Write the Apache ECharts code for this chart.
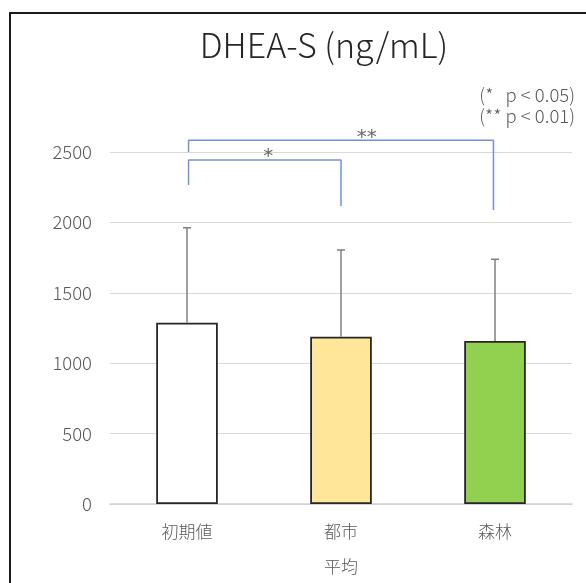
<!DOCTYPE html>
<html>
<head>
<meta charset="utf-8">
<script src="https://cdn.jsdelivr.net/npm/echarts@6/dist/echarts.min.js"></script>
<style>
  html, body { margin: 0; padding: 0; background: #fff; }
  #chart { width: 586px; height: 583px; }
</style>
</head>
<body>
<div id="chart"></div>
<script>
// Group labels and mean DHEA-S values (ng/mL) with upper SD
const categories = ['初期値', '都市', '森林'];
const means = [1288, 1188, 1158];
const sds = [674, 616, 580];
const barColors = ['#ffffff', '#ffe699', '#92d050'];
const yTicks = { min: 0, max: 2500, interval: 500 };

// Significance brackets: [x (group position), y (value)] vertices
const bracketDouble = [[0.01, 2500], [0.01, 2583], [1.99, 2583], [1.99, 2088]];
const bracketSingle = [[0.01, 2266], [0.01, 2443], [1.0, 2443], [1.0, 2116]];
// Asterisk marks placed above each bracket
const marks = [
  { pos: [1.167, 2600], text: '**' },
  { pos: [0.528, 2466], text: '*' }
];
const noteLines = ['(*   p < 0.05)', '(** p < 0.01)'];

const FONT = '"Noto Sans CJK JP", "Noto Sans", sans-serif';
const chart = echarts.init(document.getElementById('chart'));

chart.setOption({
  animation: false,
  backgroundColor: '#ffffff',
  title: {
    text: 'DHEA-S (ng/mL)',
    left: 319,
    top: 23,
    textAlign: 'center',
    textStyle: { fontFamily: FONT, fontSize: 34, fontWeight: 300, color: '#262626' }
  },
  graphic: [
    {
      type: 'rect', silent: true, z: -1,
      shape: { x: 10, y: 13, width: 800, height: 800 },
      style: { fill: 'none', stroke: '#1a1a1a', lineWidth: 2 }
    },
    {
      type: 'text', right: 11, top: 84,
      style: { text: noteLines.join('\n'), font: '300 18.5px ' + FONT, fill: '#595959', textAlign: 'right', lineHeight: 21 }
    }
  ],
  grid: { left: 110, right: 14, top: 152, bottom: 79, containLabel: false },
  xAxis: [
    {
      type: 'category',
      data: categories,
      name: '平均',
      nameLocation: 'middle',
      nameGap: 54,
      nameTextStyle: { fontFamily: FONT, fontSize: 17, fontWeight: 300, color: '#595959' },
      axisLine: { show: true, lineStyle: { color: '#d0d0d0', width: 1.5 } },
      axisTick: { show: false },
      axisLabel: { fontFamily: FONT, fontSize: 17, fontWeight: 300, color: '#595959', margin: 19 }
    },
    {
      type: 'value', min: -0.5, max: 2.5, show: false
    }
  ],
  yAxis: {
    type: 'value',
    min: yTicks.min, max: yTicks.max, interval: yTicks.interval,
    axisLine: { show: false },
    axisTick: { show: false },
    axisLabel: {
      fontFamily: FONT, fontSize: 18.5, fontWeight: 300, color: '#595959', margin: 18,
      formatter: v => String(v)
    },
    splitLine: { lineStyle: { color: '#d9d9d9', width: 1 } }
  },
  series: [
    {
      type: 'bar',
      barWidth: '40%',
      data: means.map((v, i) => ({
        value: v,
        itemStyle: { color: barColors[i], borderColor: '#262626', borderWidth: 1.8 }
      })),
      z: 2
    },
    {
      // upward error bars with caps
      type: 'custom',
      z: 3,
      data: means.map((m, i) => [i, m, m + sds[i]]),
      renderItem: function (params, api) {
        const base = api.coord([api.value(0), api.value(1)]);
        const top = api.coord([api.value(0), api.value(2)]);
        const cap = 4;
        const style = { stroke: '#7f7f7f', lineWidth: 1.5 };
        return {
          type: 'group',
          children: [
            { type: 'line', shape: { x1: base[0], y1: base[1], x2: top[0], y2: top[1] }, style: style },
            { type: 'line', shape: { x1: top[0] - cap, y1: top[1], x2: top[0] + cap, y2: top[1] }, style: style }
          ]
        };
      }
    },
    {
      type: 'line', xAxisIndex: 1, data: bracketDouble, symbol: 'none', clip: false,
      lineStyle: { color: '#7094d6', width: 1.5 }, z: 4
    },
    {
      type: 'line', xAxisIndex: 1, data: bracketSingle, symbol: 'none', clip: false,
      lineStyle: { color: '#7094d6', width: 1.5 }, z: 4
    },
    {
      type: 'scatter', xAxisIndex: 1, symbolSize: 0, clip: false, z: 5,
      data: marks.map(m => ({ value: m.pos, name: m.text })),
      label: {
        show: true, position: 'inside',
        formatter: p => p.name,
        fontFamily: '"DejaVu Sans", sans-serif', fontSize: 20, color: '#404040'
      }
    }
  ]
});
</script>
</body>
</html>
